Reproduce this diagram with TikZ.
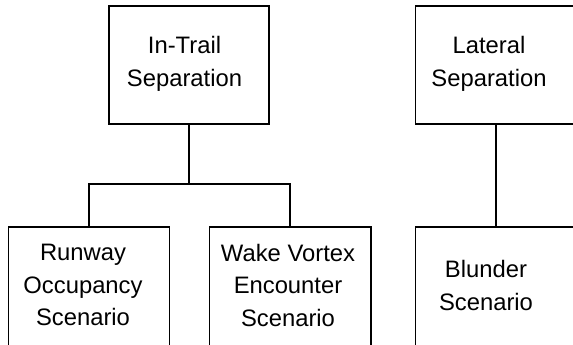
\documentclass[tikz,border=0pt]{standalone}
\usepackage{fontspec}
\setmainfont{Liberation Sans}
\begin{document}
\begin{tikzpicture}[x=1pt, y=-1pt,
  box/.style={draw=black, line width=1.6pt, rectangle, minimum height=120pt, inner sep=0pt},
  caption/.style={align=center, font=\fontsize{23.8}{32.5}\selectfont, inner sep=0pt},
  link/.style={draw=black, line width=1.6pt}]
  \useasboundingbox (0,0) rectangle (573,345);
  \clip (0,0) rectangle (573,345);

  % boxes
  \node[box, minimum width=160pt, minimum height=118.5pt] (trail) at (189,65) {};
  \node[box, minimum width=161pt] (runway) at (89,287) {};
  \node[box, minimum width=161.5pt] (wake) at (290.25,287) {};
  \node[box, minimum width=161pt, minimum height=118.5pt] (lateral) at (496,65) {};
  \node[box, minimum width=161pt] (blunder) at (496,287) {};

  % captions
  \node[caption] (trailtxt) at (184.5,64) {In-Trail\\Separation};
  \node[caption] (runwaytxt) at (83,285) {Runway\\Occupancy\\Scenario};
  \node[caption] (waketxt) at (288,285) {Wake Vortex\\Encounter\\Scenario};
  \node[caption] (lateraltxt) at (489,64) {Lateral\\Separation};
  \node[caption] (blundertxt) at (486,285.5) {Blunder\\Scenario};

  % tree connectors
  \coordinate (split) at (189,184);
  \draw[link] (trail.south) -- (split);
  \draw[link] (split) -| (runway.north);
  \draw[link] (split) -| (wake.north);
  \draw[link] (lateral.south) -- (blunder.north);
\end{tikzpicture}
\end{document}
